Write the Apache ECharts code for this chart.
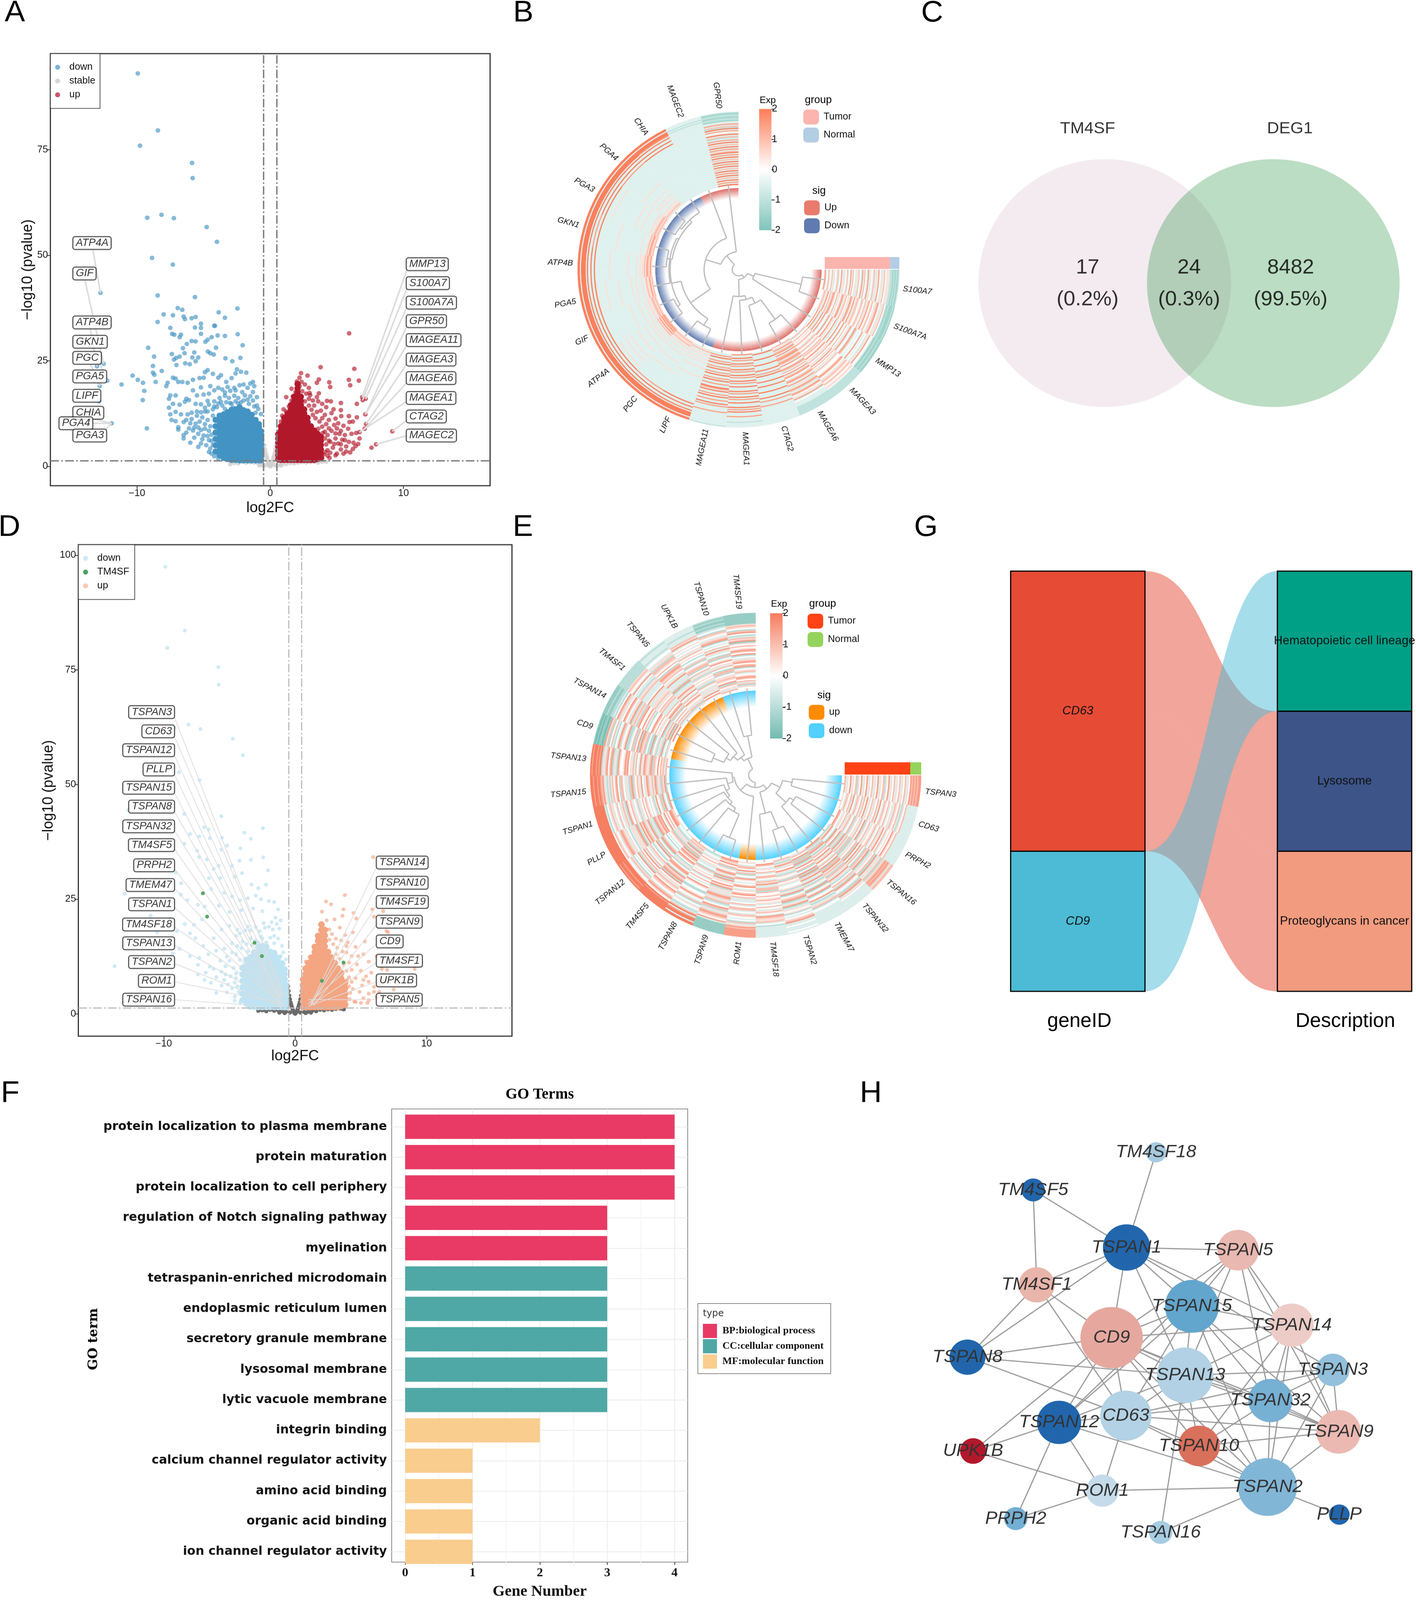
<!DOCTYPE html>
<html><head><meta charset="utf-8">
<style>html,body{margin:0;padding:0;background:#fff;overflow:hidden}#c{width:3626px;height:4177px;transform-origin:0 0}</style>
<script src="https://cdn.jsdelivr.net/npm/echarts@6/dist/echarts.min.js"></script></head>
<body><div id="c"></div>
<script>
// ---------- Panel A values (flat x,y pairs; core = [x, y, y, ...] columns)
const aDown=[-9.94,93.1,-8.43,79.6,-9.77,76,-5.87,71.9,-5.82,68.3,-9.23,58.9,-8.16,59.6,-7.23,58.8,-4.77,56.7,-4,53.2,-8.87,49.4,-7.31,47.8,-8.45,40.5,-5.65,40.1,-12.74,41.1,-6.94,37.5,-6.6,37.1,-2.46,37.4,-3.87,36.5,-8,36,-7.3,35.8,-6.5,35.5,-5.9,35.1,-5.6,35.4,-6.4,34.9,-3.4,35.2,-8.45,34.2,-5.2,33.8,-4.2,33.3,-4.15,33.3,-7.5,32.8,-5.65,32.9,-5.2,32.8,-7.36,31.4,-7.2,31.2,-6.7,31.2,-5.2,31.4,-2.44,31.3,-3.4,30.9,-3.95,31,-4.4,30.6,-4.7,30,-4.87,29.5,-6.8,30.6,-5.9,29.7,-5.6,29.6,-6.26,29,-2.07,28.7,-9.16,28.1,-6.55,28,-4.07,28.1,-4.68,27.2,-5.7,27,-6.43,26.8,-4.5,26.8,-7.38,26.6,-6.8,26,-4.24,26.5,-8.72,26,-5.85,25.8,-5.4,25.8,-7.06,25.7,-7.23,25.3,-3.36,25.6,-2.24,25.7,-2.85,24.9,-5.6,24.9,-6.38,24.4,-6.04,24.2,-7.04,24,-12.5,24.3,-13,23.7,-8.8,23.8,-8.14,22.6,-8.8,22.2,-8.7,21.7,-10.33,21.5,-9.94,20.5,-9.55,19.8,-8.6,20,-11.16,19.4,-12.23,20.3,-12.8,19,-9.45,17.9,-9.57,15.7,-11.9,10.2,-9.26,9,-12.84,15.4,-7.3,21,-7.1,20.8,-6.9,20,-7.7,19.8,-7.8,19,-6.6,20,-6.2,19.8,-5.8,20.5,-5.3,20.9,-5,21,-4.9,22.3,-4.7,22.8,-4.3,21.9,-3.9,21,-3.7,21.6,-3.3,20,-2.9,20.9,-2.6,22,-2.5,23,-2.2,22.4,-1.8,22.2,-1.3,20,-1.2,19,-1.3,17.6,-2.1,17.6,-2.7,18.6,-3.4,17.5,-4.5,19,-5.2,18.7,-5.8,18,-5.5,16.8,-5,17,-6.3,16,-6.1,15.7,-7.5,16.8,-7.6,16,-7.1,16.8,-7.3,14.8,-6.8,14.6,-6.4,15.3,-5.6,14.8,-5.2,14.7,-4.7,15.5,-4.2,15.4,-3.8,16.2,-3.4,16.7,-7.6,13.9,-7.5,12.3,-7.1,12.9,-6.7,12.3,-6.2,12.3,-5.9,12.7,-5.5,13,-5.2,12.8,-4.9,13,-7.4,11,-7.1,10.7,-6.5,10.5,-6.9,9.3,-6.9,8.7,-6.5,7.4,-6.5,6.6,-6,10.2,-5.6,10.1,-5.4,9.2,-5.2,8.6,-5,7.3,-5.8,8.5,-5.7,6.8,-4.8,5,-4.5,4.2,-4.4,3,-4.7,11,-4.3,12,-4.5,9.5,-4.4,7.5,-4.6,6.2,-4.3,13.5,-3.6,14.4,-3,15,-2.6,15.4,-2,15.6,-1.6,14.8,-1.2,14.2,-4.9,13.9,-4.6,14.6,-4.2,14.2,-3.9,14.9,-3.7,15.3,-3.3,15.2,-3.1,16.2,-2.9,14.8,-2.7,16.7,-2.4,16.2,-2.2,15.2,-1.9,16.8,-1.7,15.8,-1.5,16.6,-1.3,15.6,-1,14.4,-1,16.4,-0.9,13.6,-0.7,12.4,-1.1,12.7,-4.6,17.2,-4.2,18,-3.9,18.6,-3.6,18.2,-3.2,18.8,-3,17.9,-2.6,18,-2.3,19.2,-2,19.4,-1.7,18.6,-1.5,19.6,-4.7,13,-5.1,11.6,-5.3,10.6,-4.9,10,-4.6,8.4,-4.9,8.9,-5.1,6.4,-4.7,7.2,-4.4,6,-4.3,5,-4.6,3.4,-4.2,2.4,-3.9,1.9,-5.5,12,-5.9,11.2,-6.3,11,-5.7,9.2,-6.1,9,-6.3,8,-5.4,7.7,-5.2,5.4,-6,5.6,-5.4,4.6,-4,14,-3.4,13.6,-2.8,13.9,-2.4,14.9];
const aDownCore=[[-4.1,3.5,5,6.5,8,9.5,11],[-3.8,2.6,3.6,4.6,5.6,6.6,7.6,8.6,9.6,10.6,12],[-3.5,2,3,4,5,6,7,8,9,10,11,12.3],[-3.2,1.7,2.7,3.7,4.7,5.7,6.7,7.7,8.7,9.7,10.7,11.7,12.8],[-2.9,1.5,2.5,3.5,4.5,5.5,6.5,7.5,8.5,9.5,10.5,11.5,12.5,13.4],[-2.6,1.5,2.4,3.4,4.4,5.4,6.4,7.4,8.4,9.4,10.4,11.4,12.4,13.5],[-2.3,1.4,2.3,3.3,4.3,5.3,6.3,7.3,8.3,9.3,10.3,11.3,12.3,13.3,14],[-2,1.4,2.3,3.3,4.3,5.3,6.3,7.3,8.3,9.3,10.3,11.3,12.3,13.3],[-1.7,1.4,2.3,3.3,4.3,5.3,6.3,7.3,8.3,9.3,10.3,11.3,12.3,13],[-1.4,1.4,2.3,3.3,4.3,5.3,6.3,7.3,8.3,9.3,10.3,11.3,12.2],[-1.1,1.4,2.3,3.3,4.3,5.3,6.3,7.3,8.3,9.3,10.3,11],[-0.85,1.4,2.3,3.3,4.3,5.3,6.3,7.3,8.3,9.3,10],[-0.68,1.4,2.3,3.3,4.3,5.3,6.3,7.3,8.3]];
const aUp=[5.92,31.5,3.78,23.5,6.31,23.1,2.31,22.1,2.8,21.5,3.65,20.6,5.9,20.5,6.65,20.3,4.43,19.9,6,19.2,4.5,18.8,2,20.1,2.35,20,2.9,18.6,3.5,19.8,1.6,18.4,1.2,16.4,3,16.9,3.65,17.3,4.26,15.5,4.55,15.4,5.3,15,6.5,14.8,6.9,16.4,7.16,16,6.94,15.7,5.3,13.3,4.75,13.5,5.33,11.9,5.9,11.9,7.14,12.3,6.2,10.6,7.19,10,6.7,8.1,6.45,7.9,7.09,8.9,9.16,8.3,7.94,5.2,7.6,4.4,6.6,5.3,6.25,5.6,6.2,4.1,5.7,4.7,5.7,3.5,5,3,5.2,7.7,4.9,6.6,4.5,5.8,5.5,9.6,5.85,8.9,4,2.8,4.45,2,4.8,9.8,4.4,11,4.1,12.2,3.8,13.2,3.3,14.4,3.6,15.4,2.9,16,4.6,8.4,4.9,7.8,5.1,5.4,5.4,6.3,4.7,4.4,4.3,3.8,5.3,4,5.9,5.8,6.1,7.7,5.6,7.4,4.2,10,4.4,9,1,13.5,0.8,10.6,1.4,14.2,1.7,16.6,2.6,19.4,3.2,12.2,3.4,11.4,3.7,10.6,3.9,9.4,4.1,8.2,4.3,7.4,4.1,6.6,4.4,6.1,4.2,5.2,3.95,7.9,3.6,8.9,3.9,11.4,3.5,12.9,3.1,13.4,2.9,14.4,2.6,15.4,2.7,17.2,2.4,17.8,2.2,19,2.95,17.4,3.2,15.6,3.5,16.4,3.9,14.8,4.2,14,4.6,12.6,4.9,11.3,5.1,10.2,5,9,5.3,8.4,5.6,6.2,5.3,5.2,4.8,5.3,4.5,3.2,4.9,2.6,4.3,2.5,3.9,1.9,4.15,3.4,5.5,3,6,3.3,6.4,4.8,6.7,6.6,5.95,10.5,6.5,11.6,0.9,12,1.2,13,1.6,15.6,1.9,17.6,2.2,21,1.4,11.9];
const aUpCore=[[0.6,1.6,2.6,3.6,4.6,5.6,6.6,7.6],[0.8,1.5,2.5,3.5,4.5,5.5,6.5,7.5,8.5,9.5],[1.05,1.5,2.5,3.5,4.5,5.5,6.5,7.5,8.5,9.5,10.5,11.5],[1.3,1.5,2.5,3.5,4.5,5.5,6.5,7.5,8.5,9.5,10.5,11.5,12.5],[1.55,1.5,2.5,3.5,4.5,5.5,6.5,7.5,8.5,9.5,10.5,11.5,12.5,13.5,14.5],[1.8,1.5,2.5,3.5,4.5,5.5,6.5,7.5,8.5,9.5,10.5,11.5,12.5,13.5,14.5,15.5,16.5],[2.05,1.5,2.5,3.5,4.5,5.5,6.5,7.5,8.5,9.5,10.5,11.5,12.5,13.5,14.5,15.5,16.5,17.5,18.5,19.5],[2.3,1.5,2.5,3.5,4.5,5.5,6.5,7.5,8.5,9.5,10.5,11.5,12.5,13.5,14.5,15.5,16.5],[2.55,1.5,2.5,3.5,4.5,5.5,6.5,7.5,8.5,9.5,10.5,11.5,12.5,13.5],[2.8,1.5,2.5,3.5,4.5,5.5,6.5,7.5,8.5,9.5,10.5,11.5],[3.05,1.5,2.5,3.5,4.5,5.5,6.5,7.5,8.5,9.5],[3.3,1.5,2.5,3.5,4.5,5.5,6.5,7.5,8.5],[3.55,1.7,2.7,3.7,4.7,5.7,6.7,7.7],[3.8,2,3,4,5,6,7]];
const aStable=[-0.45,5,-0.4,4,-0.35,3.2,-0.3,2.5,-0.25,2,-0.2,1.4,-0.15,1,-0.1,0.6,-0.05,0.3,0,0.1,0.05,0.3,0.1,0.6,0.15,1,0.2,1.4,0.25,2,0.3,2.5,0.35,3.2,0.4,4,0.45,5,-0.6,0.5,-0.9,0.7,-1.2,0.9,-1.5,1,-1.8,0.9,-2.1,1.1,-2.4,0.7,-2.7,0.8,-3,0.5,-0.3,0.3,0.3,0.3,0.6,0.4,0.9,0.5,1.2,0.6,1.5,0.8,1.8,0.7,2.1,0.9,2.4,1,2.7,0.9,3,1,3.3,1.1,3.6,0.9,3.9,1.1,4.2,1.1,0.8,0.2,-0.8,0.2,-0.5,0.1,0.5,0.1,0,0.02];
const aLabelsLeft=[["ATP4A",-14.79,52.9,-13.3,51.2,-12.74,41.1],["GIF",-14.79,45.7,-13.9,44,-12.5,24.3],["ATP4B",-14.79,34.1,-13.5,32.5,-13,23.7],["GKN1",-14.79,29.5,-13.3,28,-12.23,20.3],["PGC",-14.79,25.7,-13.5,24.2,-12.8,19],["PGA5",-14.79,21.3,-13.4,20,-12.23,20.3],["LIPF",-14.79,16.7,-13.4,15.3,-12.84,15.4],["CHIA",-14.79,12.7,-13.2,11.2,-11.9,10.2],["PGA4",-15.83,10.2,-14.2,10.2,-11.9,10.2],["PGA3",-14.79,7.3,-12.8,7.3,-11.9,10.2]];
const aLabelsRight=[["MMP13",10.23,47.9,10.3,47,6.9,16.4],["S100A7",10.23,43.4,10.3,42.5,6.94,15.7],["S100A7A",10.23,38.8,10.3,38,7.16,16],["GPR50",10.23,34.4,10.3,33.5,7.14,12.3],["MAGEA11",10.23,29.9,10.3,29,7.14,12.3],["MAGEA3",10.23,25.3,10.3,24.5,7.19,10],["MAGEA6",10.23,20.9,10.3,20,7.09,8.9],["MAGEA1",10.23,16.2,10.3,15.5,6.7,8.1],["CTAG2",10.23,11.8,10.3,11,9.16,8.3],["MAGEC2",10.23,7.3,10.3,7.3,7.94,5.2]];
const volcanoTicks=[-10,0,10], aTicksY=[0,25,50,75], dTicksY=[0,25,50,75,100];
const fcCut=[-0.5,0.5], pCut=[1.3];

// ---------- Panel D values
const dDown=[-9.88,97.5,-8.4,83.6,-9.73,79.8,-5.85,75.6,-5.82,71.8,-8.12,63.1,-7.2,62.1,-9.2,62.4,-4.75,60,-3.98,56.4,-8.84,52.7,-7.28,51,-8.43,43.6,-12.7,44.4,-5.62,43.1,-6.92,40.7,-6.59,40.2,-2.45,40.5,-3.86,39.5,-8,39.2,-7.3,38.7,-6.49,38.3,-5.57,38.4,-3.37,38.2,-8.43,37.1,-5.18,36.7,-4.16,36.1,-7.46,35.6,-5.62,35.8,-7.3,34.2,-6.72,33.7,-4.24,33.4,-3.37,33.6,-2.43,34.1,-5.82,32.3,-4.8,32.3,-9.09,30.8,-6.2,31.6,-4.04,30.7,-2.07,31.3,-4.6,29.9,-5.7,29.6,-8.68,28.5,-6.56,29.6,-3.32,28.2,-2.22,28.2,-2.8,27.4,-12.98,26.2,-13.74,10.4,-8.7,26,-8.2,24.8,-7.4,23.8,-6.4,27.2,-5.4,26.4,-4.8,25.6,-4.2,24.8,-3.6,25.2,-3,25.8,-2.6,25,-2,24.6,-1.6,24.4,-1.3,22.8,-1.5,21,-2.5,22.4,-3.2,23,-4.1,22.6,-5,22.2,-5.8,23.6,-6.9,23.4,-7.1,20.6,-7.7,19.4,-8.4,19.6,-9.5,20.7,-11,21.4,-12.4,20,-9,18,-8,17.6,-7.6,16.5,-7,14.8,-6.2,16.5,-5.6,18.4,-5,19.2,-4.4,18.4,-3.6,19,-2.4,19.8,-1.8,20,-1.2,18.6,-1.6,17,-2.6,16.9,-3.4,16.4,-4,15.8,-4.8,15.4,-5.4,14.2,-6,13.8,-6.6,13,-7.3,12.2,-7.4,10.7,-6.5,10.3,-5.7,11.6,-5.2,12.5,-4.5,13,-4,10.4,-5.3,8.6,-6,8,-5.6,6.2,-4.8,5.6,-4.6,3.8,-4.5,7.8,-10.5,17.8,-9.3,13.2,-3.6,13.6,-4.8,13.4,-4.4,14.8,-4.1,14.3,-3.7,15.2,-3.3,15,-3,16,-2.8,15.6,-2.5,16.4,-2.2,15.6,-1.9,16.6,-1.6,15.4,-1.3,16.4,-1,14.8,-0.9,13.4,-0.7,11.9,-1.1,12.6,-4.5,17,-4.2,17.6,-3.8,18.2,-3.4,18.2,-3,18.9,-2.7,18,-2.3,18.8,-2,19,-1.7,18.4,-1.4,19.6,-1.1,20.4,-5,11.6,-5.3,10.4,-4.7,10,-4.5,8.8,-4.9,8.2,-5.1,6.4,-4.6,6.8,-4.4,6,-4.3,4.8,-4.6,2.9,-4.2,2.4,-5.6,9.2,-6.2,9.8,-6.4,6.8,-5.4,7.4,-5.2,4.7,-6,4.6,-4.2,11.8,-6.8,9,-6.9,7.4,-7.4,8.6,-8,12.6,-8.8,14.2,-9.4,10.4];
const dDownCore=[[-4,3,4.4,5.8,7.2,8.6,10],[-3.7,2.2,3.4,4.6,5.8,7,8.2,9.4,10.6,11.8],[-3.4,1.6,2.8,4,5.2,6.4,7.6,8.8,10,11.2,12.4],[-3.1,1.6,2.8,4,5.2,6.4,7.6,8.8,10,11.2,12.4,13.4],[-2.8,1.5,2.7,3.9,5.1,6.3,7.5,8.7,9.9,11.1,12.3,13.5,14.6],[-2.5,1.5,2.7,3.9,5.1,6.3,7.5,8.7,9.9,11.1,12.3,13.5,14.8],[-2.2,1.5,2.7,3.9,5.1,6.3,7.5,8.7,9.9,11.1,12.3,13.5,14.6],[-1.9,1.5,2.7,3.9,5.1,6.3,7.5,8.7,9.9,11.1,12.3,13.5],[-1.6,1.5,2.7,3.9,5.1,6.3,7.5,8.7,9.9,11.1,12.3,13.3],[-1.3,1.5,2.7,3.9,5.1,6.3,7.5,8.7,9.9,11.1,12.2],[-1,1.5,2.7,3.9,5.1,6.3,7.5,8.7,9.9,11],[-0.8,1.5,2.7,3.9,5.1,6.3,7.5,8.7,9.7],[-0.68,1.5,2.7,3.9,5.1,6.3]];
const dUp=[5.93,34.2,3.78,25.9,2.35,24.5,2.73,23.9,2.04,22.3,3.68,22.8,4.44,22,5.87,22.8,6,21.2,6.95,18.1,7.07,17.8,6.7,22.4,4.65,20.8,4.39,17.8,3.6,21.4,3,20.6,3.4,18.8,3.8,17.2,4,15.6,4.6,14.6,5.3,15.8,5.2,13,4.8,12.6,5.6,11.4,6.2,12.6,6.6,9.8,7,9.6,9.1,9.8,6.7,7.1,6.4,6.3,6,5.9,6,4.8,5.6,4.4,5.2,3.4,4.6,2.6,5.1,6.2,4.6,7.8,4.3,9.6,3.9,13.4,1.1,12.4,0.8,11.4,1.4,14.8,1.7,16.8,2.4,20.4,2.6,18.4,5.8,9,5.4,8.2,7.5,5.3,6.2,3.7,5.5,2.4,7,3.9,3.1,13,3.4,12,3.7,10.8,3.9,9.4,4.1,8,4.3,7,4.1,6,4.4,5.4,4.2,4.6,3.95,7.4,4.1,11.2,3.6,13.6,3.2,14.4,2.9,15.2,2.6,16.2,2.8,17.4,2.4,18.4,3.1,16.4,3.5,16,3.9,14.8,4.3,12.6,4.7,10.8,5,9.4,5.2,7.4,5.6,7,4.9,4.8,4.5,2.7,3.9,2.2,4.15,3.2,5,2.4,5.6,3,6.4,4.8,7.2,7,6.6,11.6,7.8,6.6];
const dUpCore=[[0.6,1.5,2.7,3.9,5.1,6.3,7.5],[0.8,1.5,2.7,3.9,5.1,6.3,7.5,8.7,9.9],[1,1.5,2.7,3.9,5.1,6.3,7.5,8.7,9.9,11.1],[1.25,1.5,2.7,3.9,5.1,6.3,7.5,8.7,9.9,11.1,12.3],[1.5,1.5,2.7,3.9,5.1,6.3,7.5,8.7,9.9,11.1,12.3,13.5,14.6],[1.75,1.5,2.7,3.9,5.1,6.3,7.5,8.7,9.9,11.1,12.3,13.5,14.7,15.9,17],[2,1.5,2.7,3.9,5.1,6.3,7.5,8.7,9.9,11.1,12.3,13.5,14.7,15.9,17.1,18.3,19.5],[2.25,1.5,2.7,3.9,5.1,6.3,7.5,8.7,9.9,11.1,12.3,13.5,14.7,15.9,17.1,18.3],[2.5,1.5,2.7,3.9,5.1,6.3,7.5,8.7,9.9,11.1,12.3,13.5],[2.75,1.5,2.7,3.9,5.1,6.3,7.5,8.7,9.9,11.1,12.3],[3,1.5,2.7,3.9,5.1,6.3,7.5,8.7,9.9,11.1],[3.25,1.5,2.7,3.9,5.1,6.3,7.5,8.7,9.9],[3.5,1.7,2.9,4.1,5.3,6.5,7.7,8.9],[3.8,2,3.2,4.4,5.6,6.8]];
const dStable=[-0.55,6,-0.5,5,-0.45,4,-0.4,3.2,-0.35,2.5,-0.3,2,-0.25,1.5,-0.2,1.1,-0.15,0.7,-0.1,0.4,-0.05,0.2,0,0.05,0.05,0.2,0.1,0.4,0.15,0.7,0.2,1.1,0.25,1.5,0.3,2,0.35,2.5,0.4,3.2,0.45,4,0.5,5,0.55,6,-2.8,0.7,-2.5,0.8,-2.2,0.6,-1.9,0.9,-1.6,0.7,-1.3,0.8,-1,0.6,-0.7,0.5,-0.4,0.3,0.4,0.3,0.7,0.4,1,0.5,1.3,0.7,1.6,0.6,1.9,0.9,2.2,0.8,2.5,1,2.8,0.9,3.1,1.1,3.4,1.2,3.7,1,-1.2,0.3,-0.8,0.2,0.8,0.2,1.2,0.3,0,0.1,3.6,1.1];
const dTM4SF=[-7.02,26.3,-6.7,21.2,-3.09,15.5,-2.53,12.6,3.68,11.2,2.04,7.2];
const dLabelsLeft=[["TSPAN3",-9.2,65.8,-9.2,64.8,-0.84,3.5],["CD63",-9.2,61.6,-9.2,60.6,-0.8,4.2],["TSPAN12",-9.2,57.5,-9.2,56.5,-1,3.8],["PLLP",-9.2,53.3,-9.2,52.3,-1,2.8],["TSPAN15",-9.2,49.3,-9.2,48.3,-1.1,3.1],["TSPAN8",-9.2,45.2,-9.2,44.2,-0.9,2.4],["TSPAN32",-9.2,40.9,-9.2,40,-1.3,4],["TM4SF5",-9.2,36.8,-9.2,36,-1,2.2],["PRPH2",-9.2,32.4,-9.2,31.6,-1.2,2.6],["TMEM47",-9.2,28.1,-9.2,27.4,-1,2.1],["TSPAN1",-9.2,23.9,-9.2,23.3,-0.9,1.8],["TM4SF18",-9.2,19.5,-9.2,19,-0.8,2],["TSPAN13",-9.2,15.4,-9.2,15,-1,1.8],["TSPAN2",-9.2,11.3,-9.2,11,-1,1.6],["ROM1",-9.2,7.2,-9.2,7,-1.6,2.6],["TSPAN16",-9.2,3.1,-9.2,3.1,-2.8,1.8]];
const dLabelsRight=[["TSPAN14",6.2,33,6.2,32,1.2,2.2],["TSPAN10",6.2,28.6,6.2,27.8,1.3,2.4],["TM4SF19",6.2,24.4,6.2,23.6,1.2,2],["TSPAN9",6.2,20.1,6.2,19.5,1.4,1.8],["CD9",6.2,15.8,6.2,15.3,1,2.2],["TM4SF1",6.2,11.6,6.2,11.2,1.1,1.8],["UPK1B",6.2,7.3,6.2,7,1,1.7],["TSPAN5",6.2,3.1,6.2,3.1,1,3.1]];

// ---------- Panel B / E circular heatmaps (rows outer->inner; digit d => (d-4)/2 expression)
const genesB=["S100A7","S100A7A","MMP13","MAGEA3","MAGEA6","CTAG2","MAGEA1","MAGEA11","LIPF","PGC","ATP4A","GIF","PGA5","ATP4B","GKN1","PGA3","PGA4","CHIA","MAGEC2","GPR50"];
const sigB=[1,1,1,1,1,1,1,1,0,0,0,0,0,0,0,0,0,0,1,1];
const samplesB=[56,8];
const heatB=["21122332888888888832","12122333888888888831","21222333333333333332","11122333888888888822","21122323888888888831","12222333888888888822","21122333888888888732","22122333333333333331",
"54343333888888888833","36453373333333333333","53453333333333333337","45743333888888788833","63354337333333333336","34563383333333333332","57347333878888887838",
"36453373333353333333","45365733333333333337","73454387333333333334","34736333335333333333","56347338333333333338","35463733333333353333","64373383333333333336","37456337333333333332","45347833333353333333","53643373335333333337","36745338333333333333","74363383333333333338","35437337333335333333","46353833333333333336","63745373335333333333","34567338333333333338","75346383333333533333","36473337353333333337","45634838333333333333","63457333333353333336","37346383333333333338","54763337335333333333","36437833333333335337","47354373533333333333","63746338333533333338","35473383333333333333","74356337353333353336","46347833333333333333","35763373335335333338","63454738333333333333","47367383333353335337","36543337533333333333","54736833333533353338","35467373335333333333","73346338353353333336","46753383333335335333","34367337535333333338","65437833333533533333","37346373353335335337","46753338535353333333","53467383333535353338","36743337356535353333","64357833535356535336","47346373357565653333","35763338565657565338","63447383357656765333","46735337656575656337","35463833567657565333","74346373356565653338"];
const genesE=["TSPAN3","CD63","PRPH2","TSPAN16","TSPAN32","TMEM47","TSPAN2","TM4SF18","ROM1","TSPAN9","TSPAN8","TM4SF5","TSPAN12","PLLP","TSPAN1","TSPAN15","TSPAN13","CD9","TSPAN14","TM4SF1","TSPAN5","UPK1B","TSPAN10","TM4SF19"];
const sigE=[0,0,0,0,0,0,0,0,1,0,0,0,0,0,0,0,0,1,1,1,1,1,0,0];
const samplesE=[56,8];
const heatE=["733633337188888881123321","733633437188788870122311","633333337138888781123321","733633337188888880223311","633733337188788871123211","733633437178888781123321","633733336137888870222311","733633337188888781223321",
"463543725364543627354635","546253643735462753264546","354634536427354536453725","625374462536645362745364","437562354643536274635452","564326453754263546372546","345735264635475263546437","654243575346364572436354","463652436527453624735462","536473543264736453624573","354527364635254637456326","647354253746543726354645","435264736453625473562437","563742546375436254736541","346527364254753645237465","754635243647352647536234","463254736542637452635476","536472654327465372546354","245637543626374563274635","674352463745526374653247","435764253647635246735426","563425746352473652437564","346752364574254736453627","754263547346375264753642","435637246537462537463254","562473564246735462635473","347563425764253647352645","654327463542674536247356","436275364735426375462537","573642537463254736453264","345267436542736452763546","764532674354625374635427","435647253746374562437562","562374564237463752635464","346752435764254637463525","754236547326475362547346","463574263547362574364253","536247364735473625473654","245763542637547362736465","673452736452634753264357","436527463546273645327546","564732547263546372645374","345276354647362547364526","753462736452547263745363","464327546735273654263746","536754263546374562736452","347526374635462735462735","654273645726357264735464"];
const scaleB=["#7fc5ba","#ffffff","#fc7d5a"], scaleE=["#72bbb0","#ffffff","#f67c5e"], expTicks=[-2,-1,0,1,2];
// dendrograms: [mergeRadius, childA, childB]; integers are gene indices
const treeB=[16,[25,[43,[165,0,1],2],[70,[80,[97,[160,3,4],5],6],7]],[47,[88,[150,[170,8,9],[175,[183,10,11],[178,12,[172,[185,13,14],[180,[186,15,16],17]]]]],18],19]];
const treeE=[18,[32,[45,[70,[95,0,1],[105,[117,2,3],4]],[102,[150,5,6],7]],[55,8,[60,[75,[85,[92,[100,[110,[176,9,10],11],12],13],14],15],16]]],[48,[60,[75,[88,[118,17,18],19],20],21],[105,22,23]]];

// ---------- Panel C
const vennSets=["TM4SF","DEG1"], vennCounts=[17,24,8482], vennPct=["(0.2%)","(0.3%)","(99.5%)"];

// ---------- Panel F
const goTerms=["protein localization to plasma membrane","protein maturation","protein localization to cell periphery","regulation of Notch signaling pathway","myelination","tetraspanin-enriched microdomain","endoplasmic reticulum lumen","secretory granule membrane","lysosomal membrane","lytic vacuole membrane","integrin binding","calcium channel regulator activity","amino acid binding","organic acid binding","ion channel regulator activity"];
const goBP=[4,4,4,3,3,"-","-","-","-","-","-","-","-","-","-"];
const goCC=["-","-","-","-","-",3,3,3,3,3,"-","-","-","-","-"];
const goMF=["-","-","-","-","-","-","-","-","-","-",2,1,1,1,1];

// ---------- Panel G
const sankeyLeft=["CD63","CD9"], sankeyRight=["Hematopoietic cell lineage","Lysosome","Proteoglycans in cancer"];
const sankeyLinks=[["CD63","Lysosome",1],["CD63","Proteoglycans in cancer",1],["CD9","Hematopoietic cell lineage",1]];

// ---------- Panel H  (name, layout x, layout y, node diameter, colour)
const netNodes=[["TM4SF18",836,237,53,"#a6cbe0"],["TM4SF5",490,349,60,"#2166ac"],["TSPAN1",753,520,121,"#2166ac"],["TSPAN5",1067,528,106,"#e9b8b0"],["TM4SF1",500,631,92,"#e9b5aa"],["TSPAN15",937,695,138,"#62a6cd"],["CD9",711,788,160,"#e6a89e"],["TSPAN14",1218,751,113,"#edccc7"],["TSPAN8",305,846,92,"#2166ac"],["TSPAN3",1334,884,85,"#92c0dd"],["TSPAN13",918,900,145,"#b2d1e5"],["TSPAN32",1158,975,113,"#76b0d3"],["CD63",751,1020,131,"#b3d2e5"],["TSPAN12",563,1040,113,"#2166ac"],["TSPAN9",1350,1068,114,"#ecb9b2"],["TSPAN10",957,1110,106,"#d9705c"],["UPK1B",321,1125,67,"#b2182b"],["ROM1",685,1243,84,"#c5dbe9"],["TSPAN2",1150,1232,151,"#82b6d6"],["PLLP",1352,1314,53,"#2166ac"],["PRPH2",441,1326,60,"#73afd4"],["TSPAN16",849,1367,60,"#a6cde2"]];
const netEdges=["TM4SF18-TSPAN1","TM4SF5-TSPAN1","TM4SF5-TM4SF1","TSPAN1-TSPAN5","TSPAN1-TM4SF1","TSPAN1-TSPAN8","TSPAN1-CD9","TSPAN1-TSPAN15","TSPAN1-TSPAN13","TSPAN1-TSPAN14","TSPAN1-TSPAN3","TM4SF1-TSPAN8","TM4SF1-CD9","TM4SF1-CD63","TSPAN5-TSPAN15","TSPAN5-CD9","TSPAN5-TSPAN13","TSPAN5-TSPAN14","TSPAN5-TSPAN9","TSPAN5-TSPAN32","TSPAN5-TSPAN12","TSPAN15-CD9","TSPAN15-TSPAN14","TSPAN15-TSPAN13","TSPAN15-TSPAN32","TSPAN15-TSPAN2","TSPAN15-CD63","TSPAN15-TSPAN12","TSPAN15-TSPAN9","CD9-TSPAN14","CD9-TSPAN8","CD9-TSPAN13","CD9-TSPAN32","CD9-TSPAN9","CD9-CD63","CD9-TSPAN12","CD9-TSPAN10","CD9-TSPAN2","CD9-UPK1B","TSPAN8-TSPAN13","TSPAN8-CD63","TSPAN14-TSPAN13","TSPAN14-TSPAN32","TSPAN14-TSPAN10","TSPAN14-TSPAN9","TSPAN14-TSPAN2","TSPAN3-TSPAN13","TSPAN3-TSPAN32","TSPAN3-TSPAN9","TSPAN3-TSPAN2","TSPAN3-CD63","TSPAN13-TSPAN32","TSPAN13-CD63","TSPAN13-TSPAN12","TSPAN13-TSPAN9","TSPAN13-TSPAN10","TSPAN13-TSPAN2","TSPAN13-TSPAN16","TSPAN32-CD63","TSPAN32-TSPAN9","TSPAN32-TSPAN2","TSPAN32-TSPAN10","CD63-TSPAN12","CD63-TSPAN9","CD63-TSPAN10","CD63-TSPAN2","CD63-ROM1","TSPAN12-UPK1B","TSPAN12-ROM1","TSPAN12-PRPH2","TSPAN12-TSPAN2","TSPAN9-TSPAN10","TSPAN9-TSPAN2","TSPAN10-TSPAN2","UPK1B-ROM1","ROM1-PRPH2","ROM1-TSPAN2","TSPAN2-PLLP","TSPAN2-TSPAN16"];

// ========== helpers
const SANS='"Liberation Sans",Arial,sans-serif', SERIF='"Liberation Serif",serif';
const pairs=a=>{const o=[];for(let i=0;i<a.length;i+=2)o.push([a[i],a[i+1]]);return o;};
const cols=c=>c.flatMap(r=>r.slice(1).map(y=>[r[0],y]));
const box=document.getElementById('c');
// the sandbox viewport can be shorter than the requested window: keep the whole figure in the photograph
box.style.transform='scale(1,'+Math.min(1,window.innerHeight/4177)+')';
const chart=echarts.init(box,null,{renderer:'canvas'});
const series=[];

function volcanoAxes(idx,ticksY,ymin,ymax,gapX,gapY){
  const lab={fontSize:25,color:'#1a1a1a',fontFamily:SANS};
  return {
    x:{gridIndex:idx,type:'value',min:-16.5,max:16.5,name:'log2FC',nameLocation:'middle',nameGap:gapX,nameTextStyle:{fontSize:38,color:'#111',fontFamily:SANS},
      axisLine:{show:false,onZero:false},splitLine:{show:false},axisTick:{length:8,lineStyle:{color:'#333',width:2},customValues:volcanoTicks},
      axisLabel:{...lab,margin:8,customValues:volcanoTicks,formatter:v=>String(v).replace('-','\u2212')}},
    y:{gridIndex:idx,type:'value',min:ymin,max:ymax,name:'\u2212log10 (pvalue)',nameLocation:'middle',nameGap:gapY,nameTextStyle:{fontSize:38,color:'#111',fontFamily:SANS},
      axisLine:{show:false,onZero:false},splitLine:{show:false},axisTick:{length:8,lineStyle:{color:'#333',width:2},customValues:ticksY},
      axisLabel:{...lab,margin:6,customValues:ticksY}}
  };
}
const scatter=(name,idx,data,color,size,opacity,z,extra)=>Object.assign({type:'scatter',name,xAxisIndex:idx,yAxisIndex:idx,data,symbolSize:size,z,silent:true,
  itemStyle:{color,opacity}},extra||{});
function connectors(idx,list,color,width,z){
  return {type:'custom',name:'connector',xAxisIndex:idx,yAxisIndex:idx,z,silent:true,clip:false,
    encode:{x:[0,2],y:[1,3]},data:list.map(l=>[l[3],l[4],l[5],l[6]]),
    renderItem:(p,api)=>{const a=api.coord([api.value(0),api.value(1)]),b=api.coord([api.value(2),api.value(3)]);
      return {type:'line',shape:{x1:a[0],y1:a[1],x2:b[0],y2:b[1]},style:{stroke:color,lineWidth:width}};}};
}
function tags(idx,list,pos,z){
  return {type:'scatter',name:'tag',xAxisIndex:idx,yAxisIndex:idx,z,silent:true,symbolSize:0,
    data:list.map(l=>({name:l[0],value:[l[1],l[2]]})),
    labelLayout:{hideOverlap:false},
    label:{show:true,position:pos,distance:0,formatter:'{b}',fontSize:27,fontStyle:'italic',fontFamily:SANS,color:'#000',
      backgroundColor:'#fff',borderColor:'#000',borderWidth:2,borderRadius:5,padding:[3,6,2,7]}};
}
const cutLines=(col,w)=>({silent:true,symbol:'none',label:{show:false},animation:false,lineStyle:{color:col,width:w,type:[22,6,4,6]},
  data:[...fcCut.map(v=>({xAxis:v})),...pCut.map(v=>({yAxis:v}))]});

// ---------- volcano A
const axA=volcanoAxes(0,aTicksY,-4.6,97.8,40,38), axD=volcanoAxes(1,dTicksY,-4.85,102.3,32,57);
series.push(scatter('stable',0,pairs(aStable),'#cfcfcf',12,0.8,2));
series.push(scatter('down',0,pairs(aDown),'#4393c3',12,0.65,2));
series.push(scatter('down',0,cols(aDownCore),'#4393c3',16,1,2));
series.push(scatter('up',0,pairs(aUp),'#b2182b',12,0.65,2));
series.push(scatter('up',0,cols(aUpCore),'#b2182b',16,1,2,{markLine:cutLines('#7c7c7c',3.5)}));
series.push(connectors(0,aLabelsLeft.concat(aLabelsRight),'#dcdcdc',4,3));
series.push(tags(0,aLabelsLeft,'right',4));
series.push(tags(0,aLabelsRight,'right',4));
// ---------- volcano D
series.push(scatter('stable',1,pairs(dStable),'#6b6b6b',11,1,2));
series.push(scatter('down',1,pairs(dDown),'#bfe3f2',10,0.75,2));
series.push(scatter('down',1,cols(dDownCore),'#bfe3f2',17,1,2));
series.push(scatter('up',1,pairs(dUp),'#f4a582',10,0.65,2));
series.push(scatter('up',1,cols(dUpCore),'#f4a582',17,1,2,{markLine:cutLines('#bdbdbd',3)}));
series.push(scatter('TM4SF',1,pairs(dTM4SF),'#4fa15e',10,0.95,3));
series.push(connectors(1,dLabelsLeft.concat(dLabelsRight),'#dedede',2,3));
series.push(tags(1,dLabelsLeft,'left',4));
series.push(tags(1,dLabelsRight,'right',4));

// ---------- circular heatmaps
function circular(pi,opt){
  const n=opt.genes.length, step=270/n, rows=opt.rows.length, rowH=(opt.R-opt.r0)/rows;
  const rad=(p,cs)=>Math.atan2(p[1]-cs.cy,p[0]-cs.cx);
  const base={type:'custom',coordinateSystem:'polar',polarIndex:pi,silent:true,clip:false,encode:{radius:0,angle:1}};
  const cells=[];
  opt.rows.forEach((s,ri)=>{for(let g=0;g<n;g++){const v=(+s[g]-4)/2;
    cells.push([opt.R-(ri+1)*rowH,g*step,v,opt.R-ri*rowH,(g+1)*step]);}});
  series.push({...base,name:'heat',z:2,data:cells,renderItem:(p,api)=>{
    const a=api.coord([api.value(0),api.value(1)]),b=api.coord([api.value(3),api.value(4)]),cs=p.coordSys;
    const c=echarts.color.lerp((api.value(2)+2)/4,opt.scale);
    return {type:'sector',shape:{cx:cs.cx,cy:cs.cy,r0:a[2],r:b[2],startAngle:rad(a,cs),endAngle:rad(b,cs),clockwise:true},style:{fill:c,stroke:c,lineWidth:0.4}};}});
  [[1,opt.sigNames[0],opt.sigColors[0]],[0,opt.sigNames[1],opt.sigColors[1]]].forEach(([flag,name,col])=>{
    const d=[];opt.sig.forEach((f,g)=>{if(f===flag)d.push([opt.ring[0],g*step,opt.ring[1],(g+1)*step]);});
    series.push({...base,name,z:2,data:d,itemStyle:{color:col},renderItem:(p,api)=>{
      const a=api.coord([api.value(0),api.value(1)]),b=api.coord([api.value(2),api.value(3)]),cs=p.coordSys;
      return {type:'sector',shape:{cx:cs.cx,cy:cs.cy,r0:a[2],r:b[2],startAngle:rad(a,cs),endAngle:rad(b,cs),clockwise:true},
        style:{fill:{type:'radial',x:cs.cx,y:cs.cy,r:b[2],global:true,colorStops:[{offset:0,color:'#fff'},{offset:a[2]/b[2],color:'#fff'},{offset:1,color:col}]}}};}});
  });
  const segs=[];
  const walk=(node)=>{ if(typeof node==='number')return {a:(node+0.5)*step,h:opt.leaf};
    const l=walk(node[1]),r=walk(node[2]);
    segs.push([node[0],l.a,node[0],r.a,1]);
    segs.push([node[0],l.a,l.h,l.a,0]);segs.push([node[0],r.a,r.h,r.a,0]);
    return {a:(l.a+r.a)/2,h:node[0]};};
  walk(opt.tree);
  series.push({...base,name:'tree',z:3,data:segs,renderItem:(p,api)=>{
    const a=api.coord([api.value(0),api.value(1)]),b=api.coord([api.value(2),api.value(3)]),cs=p.coordSys;
    const st={stroke:'#bdbdbd',lineWidth:3.2,fill:null};
    if(api.value(4)===1){const s=rad(a,cs),e=rad(b,cs);const lo=api.value(1)<=api.value(3);
      return {type:'arc',shape:{cx:cs.cx,cy:cs.cy,r:a[2],startAngle:lo?s:e,endAngle:lo?e:s,clockwise:true},style:st};}
    return {type:'line',shape:{x1:a[0],y1:a[1],x2:b[0],y2:b[1]},style:st};}});
  const nNorm=opt.samples[1], split=opt.R-nNorm*rowH;
  [[opt.groupColors[0],opt.r0,split,'Tumor'],[opt.groupColors[1],split,opt.R,'Normal']].forEach(([col,a,b,name])=>{
    series.push({...base,name,z:3,itemStyle:{color:col},data:[[a,0,b]],renderItem:(p,api)=>{
      const s=api.coord([api.value(0),0]),e=api.coord([api.value(2),0]);
      return {type:'rect',shape:{x:s[0],y:s[1]-opt.barH-2,width:e[0]-s[0],height:opt.barH},style:{fill:col}};}});
  });
  series.push({...base,name:'genes',z:3,data:opt.genes.map((g,i)=>[opt.R+12,(i+0.5)*step]),renderItem:(p,api)=>{
    const a=api.coord([api.value(0),api.value(1)]),cs=p.coordSys,th=Math.atan2(a[1]-cs.cy,a[0]-cs.cx);
    const left=Math.cos(th)<0;
    return {type:'text',x:a[0],y:a[1],rotation:left?Math.PI-th:-th,style:{text:opt.genes[p.dataIndex],font:`italic 21px ${SANS}`,fill:'#111',align:left?'right':'left',verticalAlign:'middle'}};}});
}
circular(0,{genes:genesB,rows:heatB,sig:sigB,samples:samplesB,tree:treeB,scale:scaleB,R:412,r0:221,ring:[186,213],leaf:221,barH:31,
  sigNames:['Up','Down'],sigColors:['#dd6f68','#5f7bb0'],groupColors:['#fbb4ae','#b3cde3']});
circular(1,{genes:genesE,rows:heatE,sig:sigE,samples:samplesE,tree:treeE,scale:scaleE,R:424,r0:228,ring:[178,221],leaf:228,barH:32,
  sigNames:['up','down'],sigColors:['#ff8c00','#52d0ff'],groupColors:['#ff4316','#94d35c']});

// ---------- Venn
series.push(scatter(vennSets[0],2,[[2829,739]],'#f4ebf0',647,1,1));
series.push(scatter(vennSets[1],2,[[3260.6,739]],'rgba(12,133,41,0.28)',647,1,2));
series.push({type:'scatter',name:'vennText',xAxisIndex:2,yAxisIndex:2,symbolSize:0,z:4,silent:true,
  data:[[2785,741],[3045,741],[3305,741]].map((v,i)=>({value:v,name:vennCounts[i]+'\n'+vennPct[i]})),
  label:{show:true,position:'inside',formatter:'{b}',fontSize:54,lineHeight:83,color:'#000',fontFamily:SANS}});
series.push({type:'scatter',name:'vennSet',xAxisIndex:2,yAxisIndex:2,symbolSize:0,z:4,silent:true,
  data:[[2785,336],[3303,336]].map((v,i)=>({value:v,name:vennSets[i]})),
  label:{show:true,position:'inside',formatter:'{b}',fontSize:43,color:'#000',fontFamily:SANS}});

// ---------- GO bars
[['BP:biological process',goBP,'#e83a64'],['CC:cellular component',goCC,'#4fa8a5'],['MF:molecular function',goMF,'#f9cd8e']].forEach(([name,data,color])=>{
  series.push({type:'bar',name,xAxisIndex:4,yAxisIndex:4,stack:'go',data,barWidth:'80%',itemStyle:{color},silent:true,z:2});
});

// ---------- Sankey
const skColors={CD63:'#E64B35',CD9:'#4DBBD5','Hematopoietic cell lineage':'#00A087',Lysosome:'#3C5488','Proteoglycans in cancer':'#F39B7F'};
series.push({type:'sankey',left:2588,top:1491,width:1027,height:1097,nodeWidth:344,nodeGap:0,layoutIterations:0,silent:true,draggable:false,z:2,
  emphasis:{disabled:true},
  data:sankeyLeft.map(n=>({name:n,itemStyle:{color:skColors[n],borderColor:'#000',borderWidth:3},label:{fontStyle:'italic',position:'inside',align:'center',fontSize:31,color:'#111',fontFamily:SANS}}))
    .concat(sankeyRight.map(n=>({name:n,itemStyle:{color:skColors[n],borderColor:'#000',borderWidth:3},label:{position:'inside',align:'center',fontSize:31,color:'#111',fontFamily:SANS}}))),
  links:sankeyLinks.map(l=>({source:l[0],target:l[1],value:l[2],lineStyle:{color:skColors[l[0]],opacity:0.5,curveness:0.5}}))});

// ---------- Network
series.push({type:'graph',coordinateSystem:'cartesian2d',xAxisIndex:5,yAxisIndex:5,silent:true,z:2,layout:'none',
  data:netNodes.map(n=>({name:n[0],value:[n[1],n[2]],symbolSize:n[3],itemStyle:{color:n[4]}})),
  links:netEdges.map(e=>{const [s,t]=e.split('-');return {source:s,target:t};}),
  lineStyle:{color:'#9a9a9a',width:3,opacity:1,curveness:0},
  label:{show:true,position:'inside',fontSize:47,fontStyle:'italic',color:'#333',fontFamily:SANS,formatter:'{b}'}});

const hiddenAxes=(idx,xr,yr,inv)=>({x:{gridIndex:idx,type:'value',show:false,min:xr[0],max:xr[1]},y:{gridIndex:idx,type:'value',show:false,min:yr[0],max:yr[1],inverse:!!inv}});
const axV=hiddenAxes(2,[2400,3626],[0,1300],true), axN=hiddenAxes(5,[0,1568],[0,1568],true);
const grad=s=>({type:'linear',x:0,y:1,x2:0,y2:0,colorStops:[{offset:0,color:s[0]},{offset:0.5,color:s[1]},{offset:1,color:s[2]}]});
const cbAxes=(idx)=>({x:{gridIndex:idx,type:'value',show:false,min:0,max:1},
  y:{gridIndex:idx,type:'value',position:'right',min:-2,max:2,interval:1,axisLine:{show:false,onZero:false},splitLine:{show:false},
    axisTick:{length:6,inside:false,lineStyle:{color:'#222',width:2}},axisLabel:{fontSize:25,color:'#111',margin:1,fontFamily:SANS}}});
const cbB=cbAxes(6), cbE=cbAxes(7);
const goFrameX={gridIndex:3,type:'value',min:-0.2,max:4.195,name:'Gene Number',nameLocation:'middle',nameGap:58,
  nameTextStyle:{fontSize:40,fontWeight:'bold',fontFamily:SERIF,color:'#111'},axisLine:{show:false,onZero:false},
  axisTick:{length:7,lineStyle:{color:'#333',width:2},customValues:[0,1,2,3,4]},
  splitLine:{show:true,lineStyle:{color:'#ececec',width:2}},
  axisLabel:{customValues:[0,1,2,3,4],fontSize:32,fontWeight:'bold',fontFamily:SERIF,color:'#111',margin:13}};
const goFrameY={gridIndex:3,type:'value',show:false,min:0,max:1};
const goMainX={gridIndex:4,type:'value',min:-0.2,max:4.195,axisLine:{show:false,onZero:false},axisLabel:{show:false},
  axisTick:{show:false,customValues:[0.5,1.5,2.5,3.5]},splitLine:{show:true,lineStyle:{color:'#f4f4f4',width:2}}};
const goMainY={gridIndex:4,type:'category',inverse:true,data:goTerms,axisLine:{show:false,onZero:false},
  axisTick:{alignWithLabel:true,length:7,lineStyle:{color:'#333',width:2}},
  splitLine:{show:true,alignWithLabel:true,lineStyle:{color:'#ececec',width:2}},
  axisLabel:{interval:0,fontSize:31.3,fontWeight:'bold',fontFamily:'"DejaVu Sans",sans-serif',color:'#111',margin:12}};

const legendCommon={selectedMode:false,orient:'vertical',z:6,inactiveColor:'#ccc'};
const volLegend=(left,top,names,colors,pr)=>({...legendCommon,left,top,icon:'circle',itemWidth:38,itemHeight:13,itemGap:11,padding:[23,pr,23,12],
  borderColor:'#222',borderWidth:1.5,backgroundColor:'#fff',textStyle:{fontSize:25,color:'#111',fontFamily:SANS,padding:[0,0,0,6]},
  data:names.map((n,i)=>({name:n,itemStyle:{color:colors[i],opacity:1}}))});
const keyLegend=(left,top,names,colors,font,gap)=>({...legendCommon,left,top,icon:'roundRect',itemWidth:40,itemHeight:39,itemGap:gap,padding:0,
  textStyle:{fontSize:font,color:'#111',fontFamily:SANS,padding:[0,0,0,7]},data:names.map((n,i)=>({name:n,itemStyle:{color:colors[i],opacity:1}}))});

const txt=(text,x,y,font,align,rot,fill)=>({type:'text',x,y,rotation:rot||0,silent:true,z:10,style:{text,x:0,y:0,font,fill:fill||'#000',align:align||'center',verticalAlign:'middle'}});
const L=`78px ${SANS}`;
const texts=[txt('A',38,34,L),txt('B',1340,34,L),txt('C',2387,34,L),txt('D',24,1377,L),txt('E',1339,1377,L),txt('G',2371,1377,L),txt('F',26,2855,L),txt('H',2230,2855,L),
  txt('Exp',1966,262,`24px ${SANS}`),txt('group',2061,262,`27px ${SANS}`,'left'),txt('sig',2080,499,`27px ${SANS}`,'left'),
  txt('Exp',1995,1577,`24px ${SANS}`),txt('group',2072,1577,`27px ${SANS}`,'left'),txt('sig',2093,1816,`27px ${SANS}`,'left'),
  txt('geneID',2764,2667,`51px ${SANS}`),txt('Description',3445,2667,`51px ${SANS}`),
  txt('GO Terms',1382,2858,`bold 39px ${SERIF}`),txt('GO term',240,3496,`bold 34px "DejaVu Serif",serif`,'center',Math.PI/2),
  txt('type',1800,3430,`24px "DejaVu Sans",sans-serif`,'left',0,'#333')];

chart.setOption({
  animation:false,backgroundColor:'#fff',textStyle:{fontFamily:SANS},
  grid:[
    {left:129,top:140,width:1126,height:1128,show:true,borderColor:'#333',borderWidth:3,backgroundColor:'#fff'},
    {left:200.6,top:1422,width:1110.4,height:1283,show:true,borderColor:'#333',borderWidth:3,backgroundColor:'#fff'},
    {left:2400,top:0,width:1226,height:1300},
    {left:1003,top:2895,width:758,height:1202,show:true,borderColor:'#8a8a8a',borderWidth:2,backgroundColor:'#fff'},
    {left:1003,top:2901.8,width:758,height:1189},
    {left:2200,top:2800,width:1426,height:1377},
    {left:1944,top:284.5,width:31.5,height:316.5,show:true,borderWidth:0,backgroundColor:grad(scaleB)},
    {left:1972,top:1601,width:32,height:327,show:true,borderWidth:0,backgroundColor:grad(scaleE)}
  ],
  xAxis:[axA.x,axD.x,axV.x,goFrameX,goMainX,axN.x,cbB.x,cbE.x],
  yAxis:[axA.y,axD.y,axV.y,goFrameY,goMainY,axN.y,cbB.y,cbE.y],
  polar:[{center:[1891,704],radius:[0,412]},{center:[1935,2024],radius:[0,424]}],
  angleAxis:[{polarIndex:0,type:'value',min:0,max:360,startAngle:0,clockwise:true,show:false},{polarIndex:1,type:'value',min:0,max:360,startAngle:0,clockwise:true,show:false}],
  radiusAxis:[{polarIndex:0,type:'value',min:0,max:412,show:false},{polarIndex:1,type:'value',min:0,max:424,show:false}],
  legend:[
    volLegend(129,140,['down','stable','up'],['#7ab3d5','#d6d6d6','#c9566a'],12),
    volLegend(200.6,1422,['down','TM4SF','up'],['#cfe9f5','#4fa15e','#f9c8b1'],14),
    keyLegend(2057,286,['Tumor','Normal'],['#fbb4ae','#b3cde3'],25,8),
    keyLegend(2059,523,['Up','Down'],['#e97b6e','#5f7bb0'],25,8),
    keyLegend(2068,1602,['Tumor','Normal'],['#ff4316','#94d35c'],25,9),
    keyLegend(2071,1840,['up','down'],['#ff8c00','#52d0ff'],25,9),
    {...legendCommon,left:1787,top:3403,icon:'rect',itemWidth:36,itemHeight:37,itemGap:3,padding:[53,18,13,13],borderColor:'#888',borderWidth:2,backgroundColor:'#fff',
      textStyle:{fontSize:26,fontWeight:'bold',fontFamily:SERIF,color:'#111',padding:[0,0,0,9]},data:['BP:biological process','CC:cellular component','MF:molecular function']}
  ],
  graphic:{elements:texts},
  series
});
</script></body></html>
